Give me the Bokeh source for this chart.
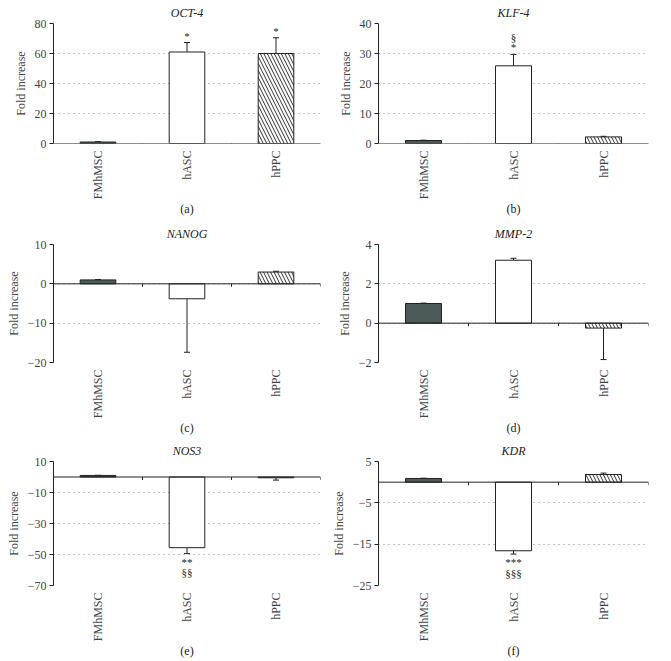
import math
from bokeh.plotting import figure
from bokeh.layouts import gridplot
from bokeh.models import (ColumnDataSource, Range1d, FixedTicker, Span,
                          Whisker, TeeHead)
from bokeh.core.properties import value
from bokeh.embed import file_html
from bokeh.resources import INLINE

# ---------------- data ----------------
categories = ["FMhMSC", "hASC", "hPPC"]

oct4_vals = [1.0, 61.0, 60.0]
oct4_err = [0.2, 6.3, 10.5]
oct4_marks = ["", "*", "*"]
oct4_ticks = [0, 20, 40, 60, 80]
oct4_tick_labels = ["0", "20", "40", "60", "80"]

klf4_vals = [1.0, 25.9, 2.2]
klf4_err = [0.1, 3.8, 0.2]
klf4_marks = ["", "§\n*", ""]
klf4_ticks = [0, 10, 20, 30, 40]
klf4_tick_labels = ["0", "10", "20", "30", "40"]

nanog_vals = [1.0, -3.8, 3.0]
nanog_err = [0.1, 13.6, 0.2]
nanog_marks = ["", "", ""]
nanog_ticks = [-20, -10, 0, 10]
nanog_tick_labels = ["\u221220", "\u221210", "0", "10"]

mmp2_vals = [1.0, 3.2, -0.25]
mmp2_err = [0.02, 0.1, 1.6]
mmp2_marks = ["", "", ""]
mmp2_ticks = [-2, 0, 2, 4]
mmp2_tick_labels = ["\u22122", "0", "2", "4"]

nos3_vals = [1.0, -45.6, -0.5]
nos3_err = [0.1, 3.8, 1.5]
nos3_marks = ["", "**\n§§", ""]
nos3_ticks = [-70, -50, -30, -10, 10]
nos3_tick_labels = ["\u221270", "\u221250", "\u221230", "\u221210", "10"]

kdr_vals = [0.9, -16.6, 1.85]
kdr_err = [0.05, 0.8, 0.35]
kdr_marks = ["", "***\n§§§", ""]
kdr_ticks = [-25, -15, -5, 5]
kdr_tick_labels = ["\u221225", "\u221215", "\u22125", "5"]

# ---------------- style ----------------
SERIF = "Liberation Serif"
INK = "#222"
bar_fills = ["#4b5a58", "#ffffff", "#ffffff"]
bar_hatches = [" ", " ", "left_diagonal_line"]

W = 327
TICK_PX = 3      # length of the category boundary ticks on the zero line

# category slots on a linear scale: centre of slot i is i + 0.5
cat_pos = [i + 0.5 for i in range(len(categories))]
cat_bounds = [i + 1 for i in range(len(categories))]


def panel(gene, letter, vals, errs, marks, ticks, tick_labels, lay):
    left, fw, top, fh, h = lay
    ymin, ymax = min(ticks), max(ticks)
    px = (ymax - ymin) / fh
    p = figure(x_range=Range1d(0, len(categories)),
               y_range=Range1d(ymin, ymax),
               width=W, height=h, output_backend="svg", toolbar_location=None,
               min_border_left=left, min_border_right=W - left - fw,
               min_border_top=top, min_border_bottom=h - top - fh)
    p.outline_line_color = None
    p.background_fill_color = "white"

    p.title.text = gene
    p.title.align = "center"
    p.title.text_font = SERIF
    p.title.text_font_style = "italic"
    p.title.text_font_size = "12px"
    p.title.text_color = INK
    p.title.standoff = 7

    ends = [v + e if v >= 0 else v - e for v, e in zip(vals, errs)]
    bases = ["bottom" if v >= 0 else "top" for v in vals]
    offs = [-1 if v >= 0 else 2 for v in vals]
    src = ColumnDataSource(dict(x=cat_pos, cat=categories, val=vals, end=ends,
                                fill=bar_fills, hatch=bar_hatches,
                                mark=marks, base=bases, off=offs))

    p.vbar(x="x", top="val", bottom=0, width=0.4, source=src,
           fill_color="fill", line_color=INK, line_width=1,
           hatch_pattern="hatch", hatch_color="#333", hatch_scale=7,
           hatch_weight=1)

    p.add_layout(Whisker(source=src, base="x", lower="val", upper="end",
                         lower_head=None,
                         upper_head=TeeHead(size=6, line_color=INK, line_width=1),
                         line_color=INK, line_width=1))

    p.text(x="x", y="end", text="mark", source=src, text_align="center",
           text_baseline="base", y_offset="off", text_font_size="11px",
           text_font=value(SERIF), text_color=INK, text_line_height=0.9)

    # zero line with small ticks at category boundaries
    p.add_layout(Span(location=0, dimension="width", line_color=INK, line_width=1))
    p.segment(x0=cat_bounds, y0=[0] * len(cat_bounds), x1=cat_bounds,
              y1=[-TICK_PX * px] * len(cat_bounds), line_color=INK, line_width=1)

    # y axis
    p.yaxis.ticker = FixedTicker(ticks=ticks)
    p.yaxis.major_label_overrides = {t: l for t, l in zip(ticks, tick_labels)}
    p.yaxis.axis_label = "Fold increase"
    p.yaxis.axis_label_text_font = SERIF
    p.yaxis.axis_label_text_font_style = "normal"
    p.yaxis.axis_label_text_font_size = "12px"
    p.yaxis.axis_label_standoff = 4
    p.yaxis.major_label_text_font = SERIF
    p.yaxis.major_label_text_font_size = "12px"
    p.yaxis.major_label_standoff = 3
    p.yaxis.major_tick_out = 4
    p.yaxis.major_tick_in = 0
    p.yaxis.minor_tick_line_color = None
    p.yaxis.axis_line_color = INK
    p.yaxis.major_tick_line_color = INK

    # category labels at the bottom, panel letter as the axis label
    p.xaxis.ticker = FixedTicker(ticks=cat_pos)
    p.xaxis.major_label_overrides = {x: c for x, c in zip(cat_pos, categories)}
    p.xaxis.axis_line_color = None
    p.xaxis.major_tick_line_color = None
    p.xaxis.major_tick_out = 0
    p.xaxis.major_tick_in = 0
    p.xaxis.minor_tick_line_color = None
    p.xaxis.major_label_orientation = math.pi / 2
    p.xaxis.major_label_text_font = SERIF
    p.xaxis.major_label_text_font_size = "12px"
    p.xaxis.major_label_standoff = 7
    p.xaxis.axis_label = letter
    p.xaxis.axis_label_text_font = SERIF
    p.xaxis.axis_label_text_font_style = "normal"
    p.xaxis.axis_label_text_font_size = "12px"
    p.xaxis.axis_label_text_color = INK
    p.xaxis.axis_label_standoff = 0

    # grid
    p.xgrid.grid_line_color = None
    p.ygrid.ticker = FixedTicker(ticks=ticks)
    p.ygrid.grid_line_color = "#888"
    p.ygrid.grid_line_dash = "1 4"
    return p


pa = panel("OCT-4", "(a)", oct4_vals, oct4_err, oct4_marks, oct4_ticks, oct4_tick_labels, (53, 272, 23, 121, 219))
pb = panel("KLF-4", "(b)", klf4_vals, klf4_err, klf4_marks, klf4_ticks, klf4_tick_labels, (51, 270, 23, 121, 219))
pc = panel("NANOG", "(c)", nanog_vals, nanog_err, nanog_marks, nanog_ticks, nanog_tick_labels, (53, 275, 24, 121, 219))
pd = panel("MMP-2", "(d)", mmp2_vals, mmp2_err, mmp2_marks, mmp2_ticks, mmp2_tick_labels, (51, 275, 25, 120, 219))
pe = panel("NOS3", "(e)", nos3_vals, nos3_err, nos3_marks, nos3_ticks, nos3_tick_labels, (48, 272, 21, 126, 223))
pf = panel("KDR", "(f)", kdr_vals, kdr_err, kdr_marks, kdr_ticks, kdr_tick_labels, (49, 278, 22, 126, 223))

grid = gridplot([[pa, pb], [pc, pd], [pe, pf]], toolbar_location=None)

with open("out.html", "w") as f:
    f.write(file_html(grid, INLINE))
